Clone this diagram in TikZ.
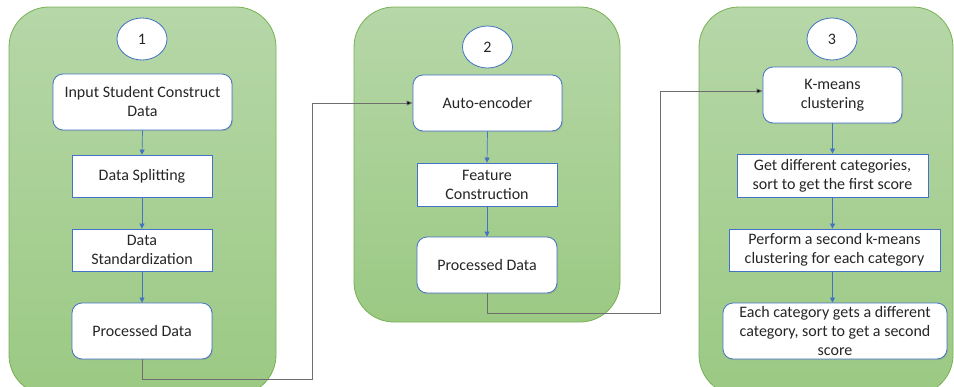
\documentclass[tikz,border=0pt]{standalone}
\usepackage{fontspec}
\setmainfont{Carlito}
\usetikzlibrary{arrows.meta,shadows,shapes.geometric}

\definecolor{panelTop}{HTML}{B6D7A8}
\definecolor{panelBot}{HTML}{9BC983}
\definecolor{panelEdge}{HTML}{78B152}
\definecolor{boxEdge}{HTML}{4472C4}
\definecolor{flowBlue}{HTML}{4472C4}
\definecolor{linkGray}{HTML}{6E6E6E}
\definecolor{txt}{HTML}{262626}

\tikzset{
  panel/.style={draw=panelEdge, line width=0.8pt, top color=panelTop, bottom color=panelBot, rounded corners=40pt},
  stagebubble/.style={ellipse, draw=boxEdge, line width=0.8pt, fill=white, minimum width=50pt, minimum height=42pt, inner sep=0pt,
    text=txt, font=\fontsize{16}{19}\selectfont},
  basebox/.style={draw=boxEdge, line width=0.8pt, fill=white, align=center, inner sep=2pt, text=txt,
    font=\fontsize{16}{19}\selectfont,
    drop shadow={shadow xshift=1pt, shadow yshift=-1.2pt, opacity=0.25}},
  roundbox/.style={basebox, rounded corners=10pt},
  flatbox/.style={basebox},
  flow/.style={draw=flowBlue, line width=0.7pt, -{Triangle[length=5pt,width=5pt]}},
  link/.style={draw=linkGray, line width=0.8pt, -{Triangle[length=6pt,width=5pt,fill=black]}},
}

\begin{document}
\begin{tikzpicture}[x=1pt,y=-1pt]
\useasboundingbox (0,0) rectangle (954,386);

% three stage panels
\shade[panel] (9,7) rectangle (276,395);
\shade[panel] (354,7) rectangle (620,322);
\shade[panel] (699,7) rectangle (953,395);

% stage numbers
\node[stagebubble] (s1) at (142,39) {1};
\node[stagebubble] (s2) at (487.5,47) {2};
\node[stagebubble] (s3) at (832,39) {3};

% stage 1
\node[roundbox, minimum width=179pt, minimum height=56pt] (a1) at (142.5,102) {Input Student Construct\\Data};
\node[flatbox, minimum width=140pt, minimum height=42pt] (a2) at (142,176) {Data Splitting};
\node[flatbox, minimum width=140pt, minimum height=42pt] (a3) at (142,250) {Data\\Standardization};
\node[roundbox, minimum width=140pt, minimum height=56pt] (a4) at (142,331) {Processed Data};

% stage 2
\node[roundbox, minimum width=149pt, minimum height=56pt] (b1) at (487.5,103) {Auto-encoder};
\node[flatbox, minimum width=140pt, minimum height=43pt] (b2) at (487,184.5) {Feature\\Construction};
\node[roundbox, minimum width=140pt, minimum height=56pt] (b3) at (487,265) {Processed Data};

% stage 3
\node[roundbox, minimum width=139pt, minimum height=56pt] (c1) at (832.5,95) {K-means\\clustering};
\node[flatbox, minimum width=191pt, minimum height=43pt] (c2) at (832.5,175.5) {Get different categories,\\sort to get the first score};
\node[flatbox, minimum width=211pt, minimum height=42pt] (c3) at (834.5,250) {Perform a second k-means\\clustering for each category};
\node[roundbox, minimum width=224pt, minimum height=56pt] (c4) at (835,331) {Each category gets a different\\category, sort to get a second\\score};

% flow inside the stages
\draw[flow] (a1.south) -- (a2.north);
\draw[flow] (a2.south) -- (a3.north);
\draw[flow] (a3.south) -- (a4.north);
\draw[flow] (b1.south) -- (b2.north);
\draw[flow] (b2.south) -- (b3.north);
\draw[flow] (c1.south) -- (c1.south |- c2.north);
\draw[flow] (c1.south |- c2.south) -- (c1.south |- c3.north);
\draw[flow] (c1.south |- c3.south) -- (c1.south |- c4.north);

% links between stages
\coordinate (k1) at (312,379);
\coordinate (k2) at (660,313);
\draw[link] (a4.south) |- (k1) |- (b1.west);
\draw[link] (b3.south) |- (k2) |- ([yshift=4pt]c1.west);
\end{tikzpicture}
\end{document}
